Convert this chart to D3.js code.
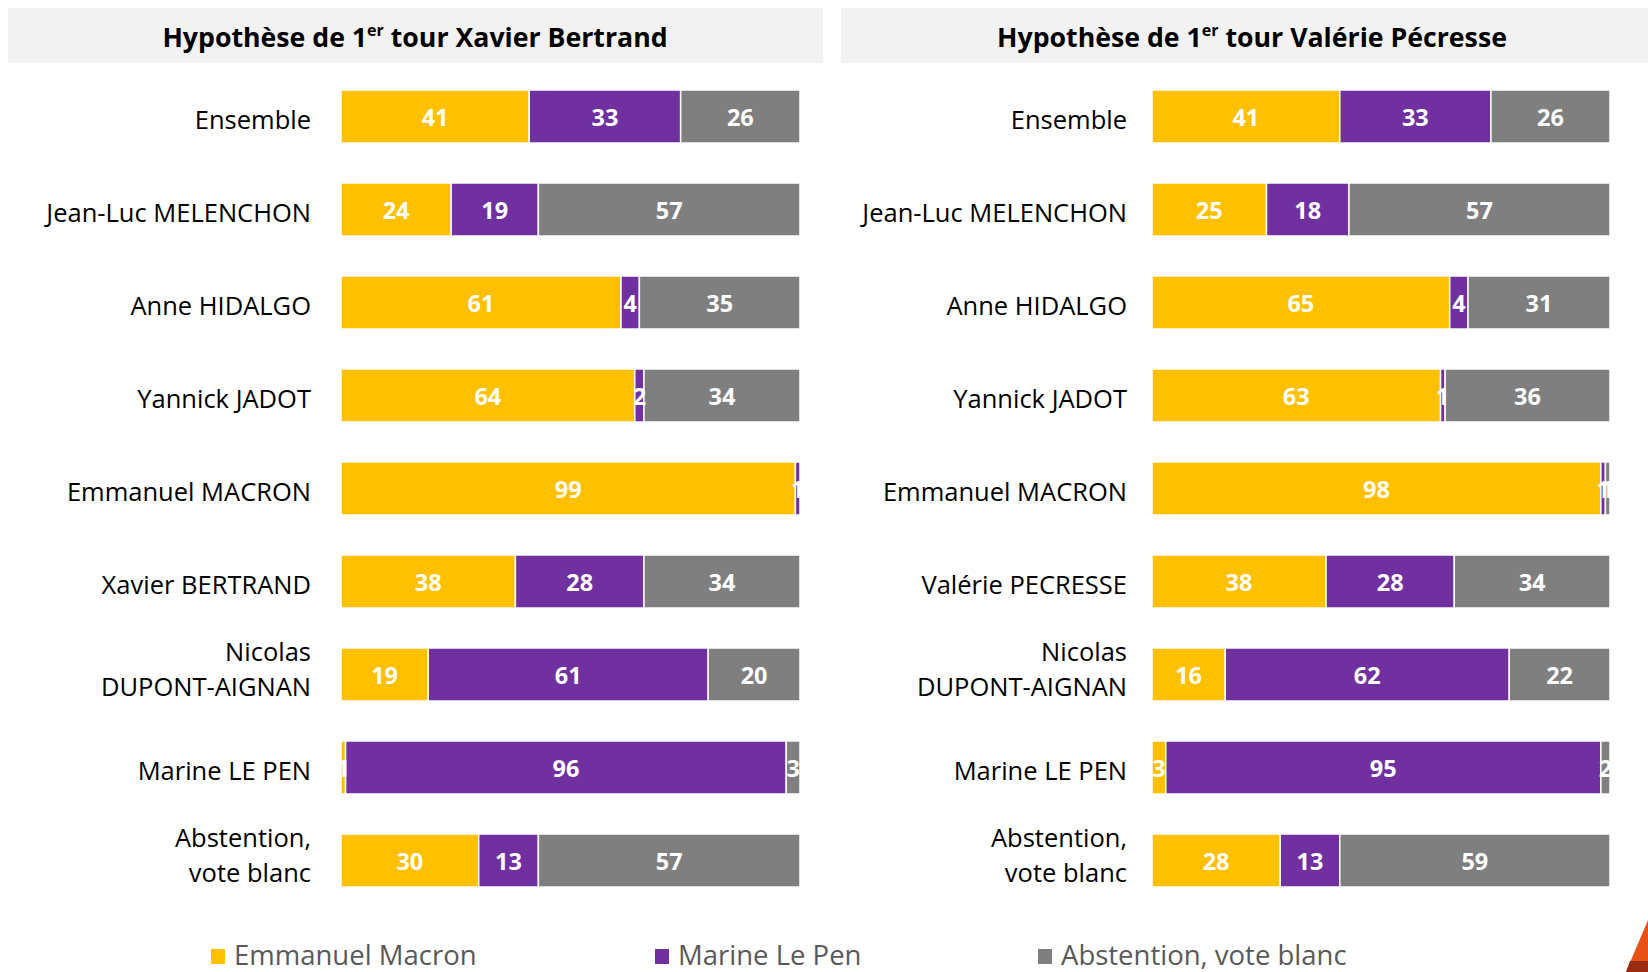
<!DOCTYPE html>
<html>
<head>
<meta charset="utf-8">
<script src="https://d3js.org/d3.v7.min.js"></script>
<style>
  body { margin: 0; background: #fff; }
  text { font-family: "Open Sans", "Noto Sans", sans-serif; }
</style>
</head>
<body>
<script>
// Data
//= ================================
var leftCategories = ["Ensemble", "Jean-Luc MELENCHON", "Anne HIDALGO", "Yannick JADOT", "Emmanuel MACRON",
  "Xavier BERTRAND", "Nicolas|DUPONT-AIGNAN", "Marine LE PEN", "Abstention,|vote blanc"];
var rightCategories = ["Ensemble", "Jean-Luc MELENCHON", "Anne HIDALGO", "Yannick JADOT", "Emmanuel MACRON",
  "Valérie PECRESSE", "Nicolas|DUPONT-AIGNAN", "Marine LE PEN", "Abstention,|vote blanc"];

var seriesNames = ["Emmanuel Macron", "Marine Le Pen", "Abstention, vote blanc"];

var leftMacron = [41, 24, 61, 64, 99, 38, 19, 1, 30];
var leftLePen = [33, 19, 4, 2, 1, 28, 61, 96, 13];
var leftAbst = [26, 57, 35, 34, 0, 34, 20, 3, 57];

var rightMacron = [41, 25, 65, 63, 98, 38, 16, 3, 28];
var rightLePen = [33, 18, 4, 1, 1, 28, 62, 95, 13];
var rightAbst = [26, 57, 31, 36, 1, 34, 22, 2, 59];

var colors = ["#FFC000", "#7030A0", "#7F7F7F"];

// Step 1: svg
//= ================================
var svgWidth = 1648;
var svgHeight = 972;

var svg = d3.select("body")
  .append("svg")
  .attr("width", svgWidth)
  .attr("height", svgHeight);

// Step 2: one panel function
//= ================================
function drawPanel(opts) {
  var g = svg.append("g");

  // header band
  g.append("rect")
    .attr("x", opts.headX)
    .attr("y", 8)
    .attr("width", opts.headW)
    .attr("height", 55)
    .attr("fill", "#F2F2F2");

  var title = g.append("text")
    .attr("x", opts.titleX)
    .attr("y", 47)
    .attr("text-anchor", "middle")
    .attr("font-size", 26.7)
    .attr("font-weight", "bold")
    .attr("fill", "#000");
  title.append("tspan").text("Hypothèse de 1");
  title.append("tspan").attr("font-size", 16).attr("dy", -11).text("er");
  title.append("tspan").attr("dy", 11).text(" tour " + opts.name);

  var rows = opts.categories.map(function(c, i) {
    return { cat: c, vals: [opts.macron[i], opts.lepen[i], opts.abst[i]] };
  });

  var x = d3.scaleLinear().domain([0, 100]).range([opts.x0, opts.x1]);
  var y = d3.scaleBand()
    .domain(d3.range(rows.length))
    .range([70, 907])
    .paddingInner(0.43)
    .paddingOuter(0.215);

  rows.forEach(function(row, i) {
    var cum = 0;
    var segs = row.vals.map(function(v, k) {
      var s = { start: cum, value: v, k: k };
      cum += v;
      return s;
    });

    var rg = g.append("g").attr("transform", "translate(0," + y(i) + ")");

    rg.selectAll("rect")
      .data(segs.filter(function(s) { return s.value > 0; }))
      .enter()
      .append("rect")
      .attr("x", function(s) { return x(s.start); })
      .attr("y", 0)
      .attr("width", function(s) { return x(s.start + s.value) - x(s.start); })
      .attr("height", y.bandwidth())
      .attr("fill", function(s) { return colors[s.k]; })
      .attr("stroke", "#fff")
      .attr("stroke-width", 1.5);

    rg.selectAll("text.val")
      .data(segs.filter(function(s) { return s.value > 0; }))
      .enter()
      .append("text")
      .attr("class", "val")
      .attr("x", function(s) { return x(s.start + s.value / 2); })
      .attr("y", y.bandwidth() / 2 + 10)
      .attr("text-anchor", "middle")
      .attr("font-size", 23.5)
      .attr("font-weight", "bold")
      .attr("fill", "#fff")
      .text(function(s) { return s.value; });

    // category label, may be two lines
    var lines = row.cat.split("|");
    var lab = rg.append("text")
      .attr("text-anchor", "end")
      .attr("font-size", 25.5)
      .attr("fill", "#000");
    var base = lines.length > 1 ? y.bandwidth() / 2 + 4 : y.bandwidth() / 2 + 13;
    lines.forEach(function(l, j) {
      lab.append("tspan")
        .attr("x", opts.labelX)
        .attr("y", base + (j - (lines.length - 1) / 2) * 35)
        .text(l);
    });
  });
}

drawPanel({
  name: "Xavier Bertrand", headX: 8, headW: 815, titleX: 415,
  x0: 341, x1: 800, labelX: 311,
  categories: leftCategories, macron: leftMacron, lepen: leftLePen, abst: leftAbst
});

drawPanel({
  name: "Valérie Pécresse", headX: 841, headW: 807, titleX: 1252,
  x0: 1152, x1: 1610, labelX: 1127,
  categories: rightCategories, macron: rightMacron, lepen: rightLePen, abst: rightAbst
});

// Step 3: legend
//= ================================
var legendX = [211, 655, 1038];
var legend = svg.append("g").selectAll("g")
  .data(seriesNames)
  .enter()
  .append("g")
  .attr("transform", function(d, i) { return "translate(" + legendX[i] + ",956)"; });

legend.append("rect")
  .attr("x", 0)
  .attr("y", -7)
  .attr("width", 14)
  .attr("height", 15)
  .attr("fill", function(d, i) { return colors[i]; });

legend.append("text")
  .attr("x", 23)
  .attr("y", 9)
  .attr("font-size", 27.5)
  .attr("fill", "#595959")
  .text(function(d) { return d; });

// corner logo fragment
svg.append("polygon")
  .attr("points", "1648,920 1648,972 1626,972")
  .attr("fill", "#E8501A");
svg.append("polygon")
  .attr("points", "1648,961 1648,972 1626,972 1630,961")
  .attr("fill", "#9A2A10");
</script>
</body>
</html>
